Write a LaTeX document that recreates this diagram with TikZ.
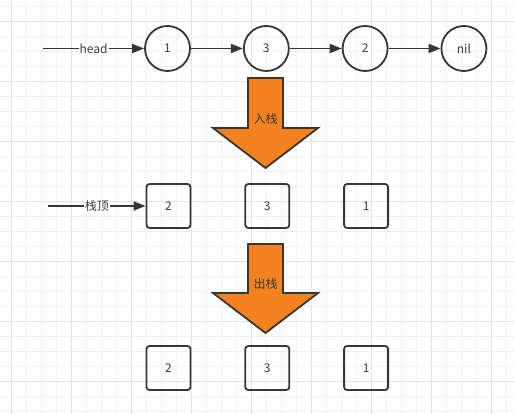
\documentclass[tikz,border=0pt]{standalone}
\usepackage{fontspec}
\setmainfont{Noto Sans CJK SC}
\usepackage{tikz}
\usetikzlibrary{arrows.meta,positioning}
\definecolor{stackorange}{RGB}{244,130,30}
\definecolor{inkgray}{RGB}{54,54,54}
\definecolor{txtgray}{RGB}{60,60,60}
\definecolor{gridminor}{RGB}{240,240,240}
\definecolor{gridmajor}{RGB}{226,226,226}
\tikzset{
  elem/.style={
    circle, draw=inkgray, line width=1.8pt, minimum size=45pt,
    inner sep=0pt, font=\fontsize{12}{14}\selectfont, text=txtgray
  },
  cell/.style={
    rounded corners=3pt, draw=inkgray, line width=1.8pt, minimum size=44pt,
    inner sep=0pt, font=\fontsize{12}{14}\selectfont, text=txtgray
  },
  tag/.style={fill=white, inner sep=1pt, font=\fontsize{12}{14}\selectfont, text=txtgray},
  flow/.style={draw=inkgray, line width=1.8pt},
  arw/.style={flow, -{Triangle[length=12pt,width=9pt]}},
  bigarrow/.style={fill=stackorange, draw=inkgray, line width=1.8pt, line join=miter},
  gline/.style={draw=gridminor, line width=0.8pt},
  gmajor/.style={draw=gridmajor, line width=0.8pt}
}

\begin{document}
\begin{tikzpicture}[x=1pt, y=-1pt]
    \useasboundingbox (0,0) rectangle (514,414);
    \fill[white] (0,0) rectangle (514,414);

    % Background grid, darker every fourth line.
    \foreach \gx in {0,...,33} {
      \pgfmathtruncatemacro{\gm}{mod(\gx,4)}
      \ifnum\gm=0
        \draw[gmajor] ({11.7+15*\gx},0) -- ++(0,414);
      \else
        \draw[gline] ({11.7+15*\gx},0) -- ++(0,414);
      \fi
    }
    \foreach \gy in {0,...,27} {
      \pgfmathtruncatemacro{\gm}{mod(\gy,4)}
      \ifnum\gm=1
        \draw[gmajor] (0,{6.7+15*\gy}) -- ++(514,0);
      \else
        \draw[gline] (0,{6.7+15*\gy}) -- ++(514,0);
      \fi
    }

    % The linked list.
    \node[elem] (one) at (167.5,48.5) {1};
    \node[elem, right=52pt of one] (three) {3};
    \node[elem, right=52pt of three] (two) {2};
    \node[elem, right=52pt of two] (nil) {nil};
    \coordinate (headin) at (43,48.5);

    \draw[arw] (headin) -- node[tag] (head) {head} (one);
    \draw[arw] (one) -- (three);
    \draw[arw] (three) -- (two);
    \draw[arw] (two) -- (nil);

    % Push arrow.
    \draw[bigarrow] (248,78) -- (283,78) -- (283,128) -- (318,128)
      -- (265.5,168) -- (213,128) -- (248,128) -- cycle;
    \node[font=\fontsize{12}{14}\selectfont, text=txtgray] (push) at (265.5,119) {入栈};

    % Stack after pushing.
    \node[cell] (sa) at (168.5,206) {2};
    \node[cell, right=53pt of sa] (sb) {3};
    \node[cell, right=53pt of sb] (sc) {1};
    \coordinate (topin) at (48,206);
    \draw[arw] (topin) -- node[tag] (top) {栈顶} (sa);

    % Pop arrow.
    \draw[bigarrow] (248,244) -- (283,244) -- (283,293) -- (318,293)
      -- (265.5,333) -- (213,293) -- (248,293) -- cycle;
    \node[font=\fontsize{12}{14}\selectfont, text=txtgray] (pop) at (265.5,284) {出栈};

    % Popped elements.
    \node[cell] (pa) at (168.5,368) {2};
    \node[cell, right=53pt of pa] (pb) {3};
    \node[cell, right=53pt of pb] (pc) {1};
  \end{tikzpicture}
\end{document}
